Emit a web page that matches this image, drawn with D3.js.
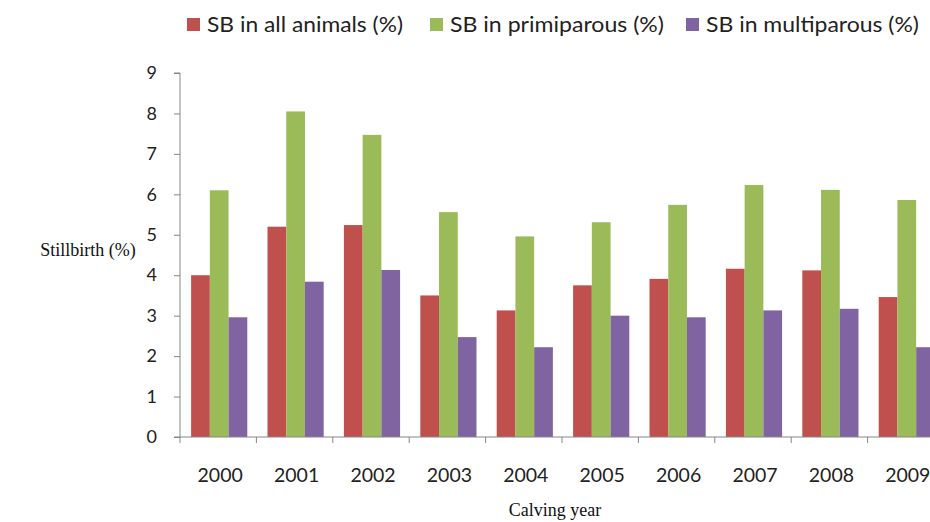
<!DOCTYPE html>
<html lang="en">
<head>
  <meta charset="UTF-8">
  <title>Stillbirth by calving year</title>
  <style>
    body { margin: 0; background: #fff; }
    .tick text { font-family: Lato, "Open Sans", sans-serif; font-size: 18px; fill: #222; }
  </style>
</head>
<body>
  <svg id="svg" width="930" height="522"></svg>

  <script src="https://d3js.org/d3.v7.min.js"></script>
  <script>
    // data
    const years = ['2000', '2001', '2002', '2003', '2004', '2005', '2006', '2007', '2008', '2009']
    const allAnimals = [4.0, 5.2, 5.24, 3.5, 3.13, 3.75, 3.91, 4.16, 4.12, 3.46]
    const primiparous = [6.1, 8.05, 7.47, 5.56, 4.96, 5.31, 5.74, 6.23, 6.11, 5.86]
    const multiparous = [2.96, 3.84, 4.13, 2.47, 2.22, 3.0, 2.96, 3.13, 3.17, 2.22]
    const seriesNames = ['SB in all animals (%)', 'SB in primiparous (%)', 'SB in multiparous (%)']
    const yTicks = [0, 1, 2, 3, 4, 5, 6, 7, 8, 9]

    const colors = ['#C0504D', '#9BBB59', '#8064A2']
    const seriesValues = [allAnimals, primiparous, multiparous]

    const margin = { top: 73, left: 180, bottom: 437 }
    // the x axis runs past the right edge of the picture, like the original
    const plotRight = 944

    const svg = d3.select('#svg')

    // x scale
    const xscale = d3.scaleBand()
      .domain(years)
      .range([margin.left, plotRight])
      .paddingInner(0)
      .paddingOuter(0)

    const inner = d3.scaleBand()
      .domain(seriesNames)
      .range([0, xscale.bandwidth()])
      .paddingOuter(0.54)
      .paddingInner(0)

    // y scale
    const yscale = d3.scaleLinear()
      .domain([0, 9])
      .range([margin.bottom, margin.top])

    // bars
    const rows = years.map((y, i) => ({ year: y, vals: seriesValues.map(s => s[i]) }))
    const groups = svg.append('g')
      .selectAll('g')
      .data(rows)
      .enter()
      .append('g')
      .attr('transform', d => `translate(${xscale(d.year) + 1}, 0)`)

    groups.selectAll('rect')
      .data(d => d.vals.map((v, k) => ({ name: seriesNames[k], v: v, k: k })))
      .enter()
      .append('rect')
      .attr('x', d => inner(d.name))
      .attr('y', d => yscale(d.v))
      .attr('width', inner.bandwidth())
      .attr('height', d => yscale(0) - yscale(d.v))
      .attr('fill', d => colors[d.k])

    // left axis
    const leftAxis = d3.axisLeft(yscale).tickValues(yTicks).tickSize(6).tickPadding(17)
    const gy = svg.append('g')
      .attr('transform', `translate(${margin.left}, 0)`)
      .call(leftAxis)
    gy.select('.domain').attr('stroke', '#868686').attr('d', `M-6,${margin.bottom}H0V${margin.top}H-6`)
    gy.selectAll('.tick line').attr('stroke', '#868686')

    // bottom axis, ticks at category boundaries
    const gx = svg.append('g')
      .attr('transform', `translate(0, ${margin.bottom})`)
    gx.append('line')
      .attr('x1', margin.left).attr('x2', plotRight)
      .attr('stroke', '#868686')
    gx.selectAll('.bound')
      .data(years.concat(['end']))
      .enter()
      .append('line')
      .attr('class', 'bound')
      .attr('x1', (d, i) => i < years.length ? xscale(d) : plotRight)
      .attr('x2', (d, i) => i < years.length ? xscale(d) : plotRight)
      .attr('y1', 0).attr('y2', 6)
      .attr('stroke', '#868686')
    gx.selectAll('text')
      .data(years)
      .enter()
      .append('text')
      .attr('x', d => xscale(d) + xscale.bandwidth() / 2 + 2)
      .attr('y', 45)
      .attr('text-anchor', 'middle')
      .style('font-family', 'Lato, "Open Sans", sans-serif')
      .style('font-size', '19.5px')
      .attr('fill', '#222')
      .text(d => d)

    // axis titles
    svg.append('text')
      .attr('x', 555).attr('y', 516)
      .attr('text-anchor', 'middle')
      .style('font-family', '"Liberation Serif", "DejaVu Serif", serif')
      .style('font-size', '18px')
      .attr('fill', '#111')
      .text('Calving year')

    svg.append('text')
      .attr('x', 88).attr('y', 256)
      .attr('text-anchor', 'middle')
      .style('font-family', '"Liberation Serif", "DejaVu Serif", serif')
      .style('font-size', '18px')
      .attr('fill', '#111')
      .text('Stillbirth (%)')

    // legend
    const legendX = [187, 430, 686]
    const legendW = [196, 214, 213]
    const legend = svg.append('g')
      .selectAll('g')
      .data(seriesNames)
      .enter()
      .append('g')
      .attr('transform', (d, i) => `translate(${legendX[i]}, 24.5)`)
    legend.append('rect')
      .attr('x', 0).attr('y', -6.5)
      .attr('width', 13).attr('height', 13)
      .attr('fill', (d, i) => colors[i])
    legend.append('text')
      .attr('x', 20).attr('y', 7.5)
      .attr('textLength', (d, i) => legendW[i])
      .attr('lengthAdjust', 'spacingAndGlyphs')
      .style('font-family', 'Lato, "Open Sans", sans-serif')
      .style('font-size', '21px')
      .attr('fill', '#222')
      .text(d => d)
  </script>
</body>
</html>
